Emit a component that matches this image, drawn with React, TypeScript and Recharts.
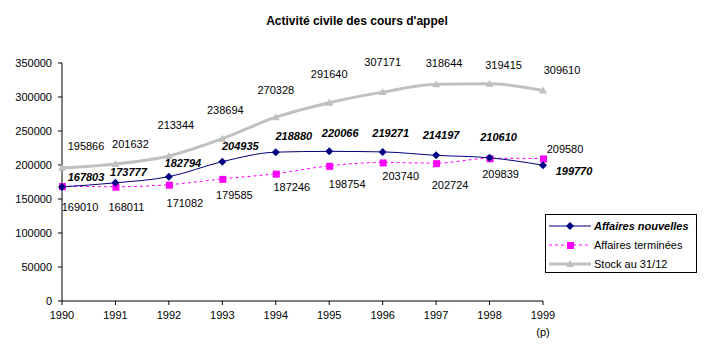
import { LineChart, Line, XAxis, YAxis, Legend } from 'recharts';

const years = [1990, 1991, 1992, 1993, 1994, 1995, 1996, 1997, 1998, 1999];
const affairesNouvelles = [167803, 173777, 182794, 204935, 218880, 220066, 219271, 214197, 210610, 199770];
const affairesTerminees = [169010, 168011, 171082, 179585, 187246, 198754, 203740, 202724, 209839, 209580];
const stock = [195866, 201632, 213344, 238694, 270328, 291640, 307171, 318644, 319415, 309610];
const yTicks = [0, 50000, 100000, 150000, 200000, 250000, 300000, 350000];

// label nudges (dx, dy) copied from the hand-placed labels of the original
const nouvellesLabelOffset = [[24, -10], [13, -11], [14, -14], [18, -16], [18, -16], [11, -18], [8, -19], [5, -20], [9, -21], [31, 6]];
const termineesLabelOffset = [[18, 21], [11, 20], [16, 18], [12, 16], [16, 13], [18, 18], [18, 14], [14, 22], [11, 16], [22, -9]];
const stockLabelOffset = [[24, -22], [15, -20], [7, -31], [3, -29], [0, -27], [0, -29], [0, -30], [8, -21], [14, -19], [19, -20]];

const data = years.map((year, i) => ({
  year,
  nouvelles: affairesNouvelles[i],
  terminees: affairesTerminees[i],
  stock: stock[i],
}));

const FONT = '"Liberation Sans", Arial, sans-serif';
const NAVY = '#000080';
const MAGENTA = '#FF00FF';
const GREY = '#C0C0C0';

const Diamond = ({ cx, cy }: { cx: number; cy: number }) => (
  <polygon points={`${cx},${cy - 4} ${cx + 4},${cy} ${cx},${cy + 4} ${cx - 4},${cy}`} fill={NAVY} />
);
const Square = ({ cx, cy }: { cx: number; cy: number }) => (
  <rect x={cx - 3} y={cy - 3} width={7} height={7} fill={MAGENTA} />
);
const Triangle = ({ cx, cy }: { cx: number; cy: number }) => (
  <polygon points={`${cx},${cy - 4} ${cx + 4},${cy + 3} ${cx - 4},${cy + 3}`} fill={GREY} />
);

function makeDot(Marker: any, offsets: number[][], bold: boolean) {
  return (props: any) => {
    const { cx, cy, index, value } = props;
    if (cx == null || cy == null) return <g key={index} />;
    const [dx, dy] = offsets[index] || [0, -12];
    return (
      <g key={index}>
        <Marker cx={cx} cy={cy} />
        <text
          x={cx + dx}
          y={cy + dy}
          textAnchor="middle"
          dominantBaseline="central"
          fontFamily={FONT}
          fontSize={11}
          fontWeight={bold ? 'bold' : 'normal'}
          fontStyle={bold ? 'italic' : 'normal'}
          fill="#000"
        >
          {value}
        </text>
      </g>
    );
  };
}

const YearTick = (props: any) => {
  const { x, y, payload } = props;
  return (
    <g>
      <text x={x} y={y + 12} textAnchor="middle" fontFamily={FONT} fontSize={11} fill="#000">
        {payload.value}
      </text>
      {payload.value === 1999 && (
        <text x={x} y={y + 29} textAnchor="middle" fontFamily={FONT} fontSize={11} fill="#000">
          (p)
        </text>
      )}
    </g>
  );
};

const legendItems = [
  { label: 'Affaires nouvelles', color: NAVY, width: 1, dash: undefined, Marker: Diamond, bold: true },
  { label: 'Affaires terminées', color: MAGENTA, width: 1, dash: '3 3', Marker: Square, bold: false },
  { label: 'Stock au 31/12', color: GREY, width: 3, dash: undefined, Marker: Triangle, bold: false },
];

const LegendBox = () => (
  <div
    style={{
      width: 150,
      height: 56,
      border: '1px solid #000',
      background: '#fff',
      fontFamily: FONT,
      fontSize: 11,
      color: '#000',
      paddingTop: 1,
      boxSizing: 'content-box',
    }}
  >
    {legendItems.map(item => (
      <div key={item.label} style={{ display: 'flex', alignItems: 'center', height: 19 }}>
        <svg width={46} height={12} style={{ marginLeft: 2 }}>
          <line x1={1} y1={6} x2={43} y2={6} stroke={item.color} strokeWidth={item.width} strokeDasharray={item.dash} />
          <item.Marker cx={22} cy={6} />
        </svg>
        <span style={{ fontWeight: item.bold ? 'bold' : 'normal', fontStyle: item.bold ? 'italic' : 'normal', whiteSpace: 'nowrap' }}>
          {item.label}
        </span>
      </div>
    ))}
  </div>
);

export default function App() {
  return (
    <div style={{ position: 'relative', width: 717, height: 359, background: '#fff' }}>
      <style>{'body{margin:0}'}</style>
      <div
        style={{
          position: 'absolute',
          top: 14,
          left: 0,
          width: 714,
          textAlign: 'center',
          fontFamily: FONT,
          fontSize: 12,
          fontWeight: 'bold',
        }}
      >
        Activité civile des cours d'appel
      </div>
      <LineChart width={717} height={359} data={data} margin={{ top: 63, right: 174, left: 0, bottom: 18 }}>
        <XAxis
          dataKey="year"
          type="number"
          domain={[1990, 1999]}
          ticks={years}
          interval={0}
          height={40}
          tick={<YearTick />}
          tickSize={4}
          axisLine={{ stroke: '#000' }}
          tickLine={{ stroke: '#000' }}
        />
        <YAxis
          domain={[0, 350000]}
          ticks={yTicks}
          interval={0}
          width={62}
          tickSize={4}
          tickMargin={6}
          tick={{ fontFamily: FONT, fontSize: 11, fill: '#000' }}
          axisLine={{ stroke: '#000' }}
          tickLine={{ stroke: '#000' }}
        />
        <Legend
          layout="horizontal"
          verticalAlign="middle"
          align="center"
          content={<LegendBox />}
          wrapperStyle={{ left: 545, top: 214, width: 152, height: 58 }}
        />
        <Line
          dataKey="stock"
          type="monotone"
          stroke={GREY}
          strokeWidth={3}
          dot={makeDot(Triangle, stockLabelOffset, false)}
          activeDot={false}
          isAnimationActive={false}
        />
        <Line
          dataKey="terminees"
          type="monotone"
          stroke={MAGENTA}
          strokeWidth={1}
          strokeDasharray="3 3"
          dot={makeDot(Square, termineesLabelOffset, false)}
          activeDot={false}
          isAnimationActive={false}
        />
        <Line
          dataKey="nouvelles"
          type="monotone"
          stroke={NAVY}
          strokeWidth={1}
          dot={makeDot(Diamond, nouvellesLabelOffset, true)}
          activeDot={false}
          isAnimationActive={false}
        />
      </LineChart>
    </div>
  );
}
